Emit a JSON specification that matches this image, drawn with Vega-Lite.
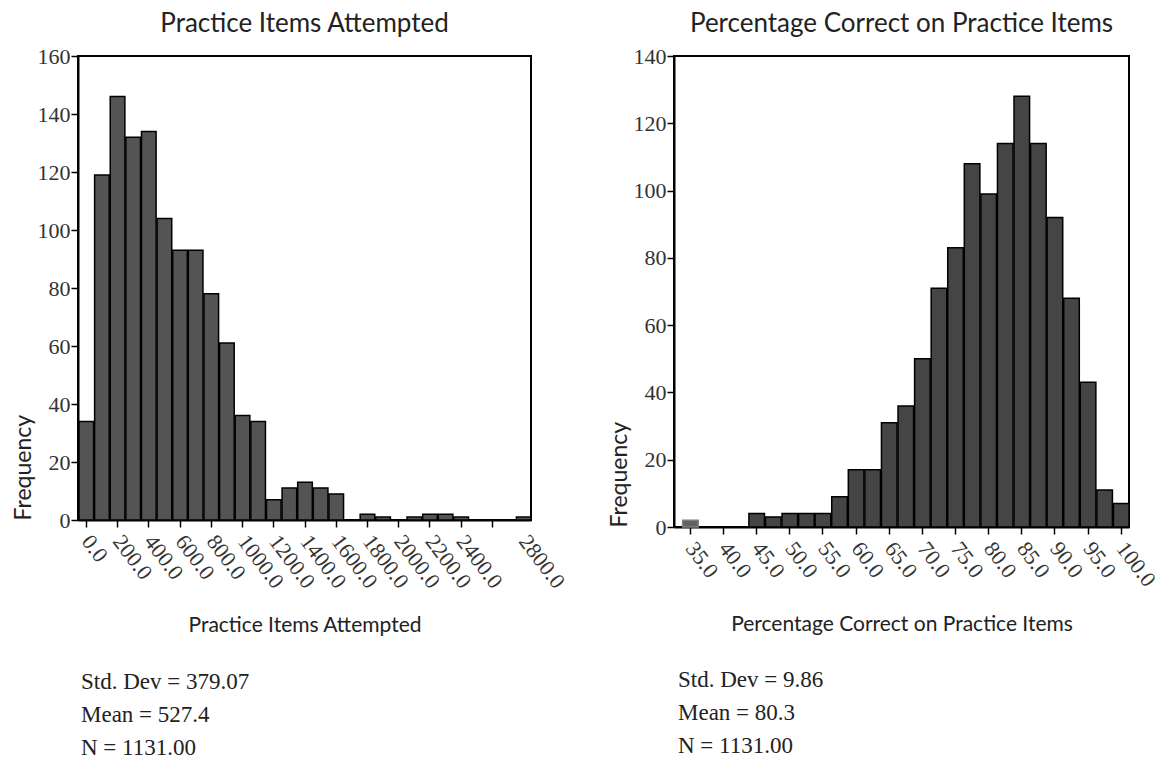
{
  "$schema": "https://vega.github.io/schema/vega-lite/v6.json",
  "padding": {"left": 11, "top": 10, "right": 0, "bottom": 0},
  "background": "white",
  "spacing": 37,
  "datasets": {
    "items": [
      {"bin_start": -50, "bin_end": 50, "count": 34},
      {"bin_start": 50, "bin_end": 150, "count": 119},
      {"bin_start": 150, "bin_end": 250, "count": 146},
      {"bin_start": 250, "bin_end": 350, "count": 132},
      {"bin_start": 350, "bin_end": 450, "count": 134},
      {"bin_start": 450, "bin_end": 550, "count": 104},
      {"bin_start": 550, "bin_end": 650, "count": 93},
      {"bin_start": 650, "bin_end": 750, "count": 93},
      {"bin_start": 750, "bin_end": 850, "count": 78},
      {"bin_start": 850, "bin_end": 950, "count": 61},
      {"bin_start": 950, "bin_end": 1050, "count": 36},
      {"bin_start": 1050, "bin_end": 1150, "count": 34},
      {"bin_start": 1150, "bin_end": 1250, "count": 7},
      {"bin_start": 1250, "bin_end": 1350, "count": 11},
      {"bin_start": 1350, "bin_end": 1450, "count": 13},
      {"bin_start": 1450, "bin_end": 1550, "count": 11},
      {"bin_start": 1550, "bin_end": 1650, "count": 9},
      {"bin_start": 1650, "bin_end": 1750, "count": 0},
      {"bin_start": 1750, "bin_end": 1850, "count": 2},
      {"bin_start": 1850, "bin_end": 1950, "count": 1},
      {"bin_start": 1950, "bin_end": 2050, "count": 0},
      {"bin_start": 2050, "bin_end": 2150, "count": 1},
      {"bin_start": 2150, "bin_end": 2250, "count": 2},
      {"bin_start": 2250, "bin_end": 2350, "count": 2},
      {"bin_start": 2350, "bin_end": 2450, "count": 1},
      {"bin_start": 2450, "bin_end": 2550, "count": 0},
      {"bin_start": 2550, "bin_end": 2650, "count": 0},
      {"bin_start": 2650, "bin_end": 2750, "count": 0},
      {"bin_start": 2750, "bin_end": 2850, "count": 1}
    ],
    "pct": [
      {"bin_start": 33.75, "bin_end": 36.25, "count": 2},
      {"bin_start": 36.25, "bin_end": 38.75, "count": 0},
      {"bin_start": 38.75, "bin_end": 41.25, "count": 0},
      {"bin_start": 41.25, "bin_end": 43.75, "count": 0},
      {"bin_start": 43.75, "bin_end": 46.25, "count": 4},
      {"bin_start": 46.25, "bin_end": 48.75, "count": 3},
      {"bin_start": 48.75, "bin_end": 51.25, "count": 4},
      {"bin_start": 51.25, "bin_end": 53.75, "count": 4},
      {"bin_start": 53.75, "bin_end": 56.25, "count": 4},
      {"bin_start": 56.25, "bin_end": 58.75, "count": 9},
      {"bin_start": 58.75, "bin_end": 61.25, "count": 17},
      {"bin_start": 61.25, "bin_end": 63.75, "count": 17},
      {"bin_start": 63.75, "bin_end": 66.25, "count": 31},
      {"bin_start": 66.25, "bin_end": 68.75, "count": 36},
      {"bin_start": 68.75, "bin_end": 71.25, "count": 50},
      {"bin_start": 71.25, "bin_end": 73.75, "count": 71},
      {"bin_start": 73.75, "bin_end": 76.25, "count": 83},
      {"bin_start": 76.25, "bin_end": 78.75, "count": 108},
      {"bin_start": 78.75, "bin_end": 81.25, "count": 99},
      {"bin_start": 81.25, "bin_end": 83.75, "count": 114},
      {"bin_start": 83.75, "bin_end": 86.25, "count": 128},
      {"bin_start": 86.25, "bin_end": 88.75, "count": 114},
      {"bin_start": 88.75, "bin_end": 91.25, "count": 92},
      {"bin_start": 91.25, "bin_end": 93.75, "count": 68},
      {"bin_start": 93.75, "bin_end": 96.25, "count": 43},
      {"bin_start": 96.25, "bin_end": 98.75, "count": 11},
      {"bin_start": 98.75, "bin_end": 101.25, "count": 7}
    ]
  },
  "hconcat": [
    {
      "title": {
        "text": ["Std. Dev = 379.07", "Mean = 527.4", "N = 1131.00"],
        "orient": "bottom", "anchor": "start", "frame": "group",
        "font": "Liberation Serif", "fontSize": 23, "fontWeight": "normal",
        "lineHeight": 33, "offset": 34, "dx": 3, "color": "#222"
      },
      "vconcat": [
        {
          "data": {"name": "items"},
          "width": 453,
          "height": 464,
          "title": {"text": "Practice Items Attempted", "anchor": "middle", "frame": "group", "offset": 8},
          "mark": {"type": "bar", "fill": "#545454", "stroke": "black", "strokeWidth": 1.5},
          "encoding": {
            "x": {
              "field": "bin_start", "type": "quantitative", "bin": "binned",
              "scale": {"domain": [-50, 2850], "nice": false, "zero": false},
              "axis": {
                "title": "Practice Items Attempted",
                "values": [0, 200, 400, 600, 800, 1000, 1200, 1400, 1600, 1800, 2000, 2200, 2400, 2600, 2800],
                "labelExpr": "datum.value == 2600 ? '' : format(datum.value, '.1f')",
                "tickOpacity": {"condition": {"test": "datum.value == 2800", "value": 0}, "value": 1}
              }
            },
            "x2": {"field": "bin_end"},
            "y": {
              "field": "count", "type": "quantitative",
              "scale": {"domain": [0, 160], "nice": false},
              "axis": {"title": "Frequency", "values": [0, 20, 40, 60, 80, 100, 120, 140, 160]}
            }
          }
        }
      ]
    },
    {
      "title": {
        "text": ["Std. Dev = 9.86", "Mean = 80.3", "N = 1131.00"],
        "orient": "bottom", "anchor": "start", "frame": "group",
        "font": "Liberation Serif", "fontSize": 23, "fontWeight": "normal",
        "lineHeight": 33, "offset": 34, "dx": 4, "color": "#222"
      },
      "vconcat": [
        {
          "data": {"name": "pct"},
          "width": 455,
          "height": 471,
          "title": {"text": "Percentage Correct on Practice Items", "anchor": "middle", "frame": "group", "offset": 8},
          "mark": {"type": "bar", "strokeWidth": 1.5},
          "encoding": {
            "x": {
              "field": "bin_start", "type": "quantitative", "bin": "binned",
              "scale": {"domain": [32.6, 101.25], "nice": false, "zero": false},
              "axis": {
                "title": "Percentage Correct on Practice Items",
                "values": [35, 40, 45, 50, 55, 60, 65, 70, 75, 80, 85, 90, 95, 100],
                "labelExpr": "format(datum.value, '.1f')"
              }
            },
            "x2": {"field": "bin_end"},
            "y": {
              "field": "count", "type": "quantitative",
              "scale": {"domain": [0, 140], "nice": false},
              "axis": {"title": "Frequency", "values": [0, 20, 40, 60, 80, 100, 120, 140]}
            },
            "fill": {"condition": {"test": "datum.bin_start < 35", "value": "#606066"}, "value": "#454545"},
            "stroke": {"condition": {"test": "datum.bin_start < 35", "value": "#808080"}, "value": "black"}
          }
        }
      ]
    }
  ],
  "config": {
    "view": {"stroke": "black", "strokeWidth": 2},
    "title": {
      "font": "Lato",
      "fontSize": 26, "fontWeight": "normal", "color": "#222"
    },
    "axis": {
      "grid": false,
      "domainColor": "black", "domainWidth": 2,
      "tickColor": "black", "tickWidth": 1.5, "tickSize": 7,
      "labelFont": "Liberation Serif", "labelFontSize": 22, "labelColor": "#333",
      "titleFont": "Lato",
      "titleFontSize": 21, "titleFontWeight": "normal", "titleColor": "#222"
    },
    "axisX": {
      "labelAngle": 53, "labelAlign": "left", "labelBaseline": "middle",
      "labelPadding": 10, "labelOverlap": false, "labelFlush": false, "titlePadding": 23
    },
    "axisY": {
      "labelPadding": 1, "titleAnchor": "start", "titlePadding": 2, "titleFontSize": 23,
      "format": "d", "labelOverlap": false
    }
  }
}
